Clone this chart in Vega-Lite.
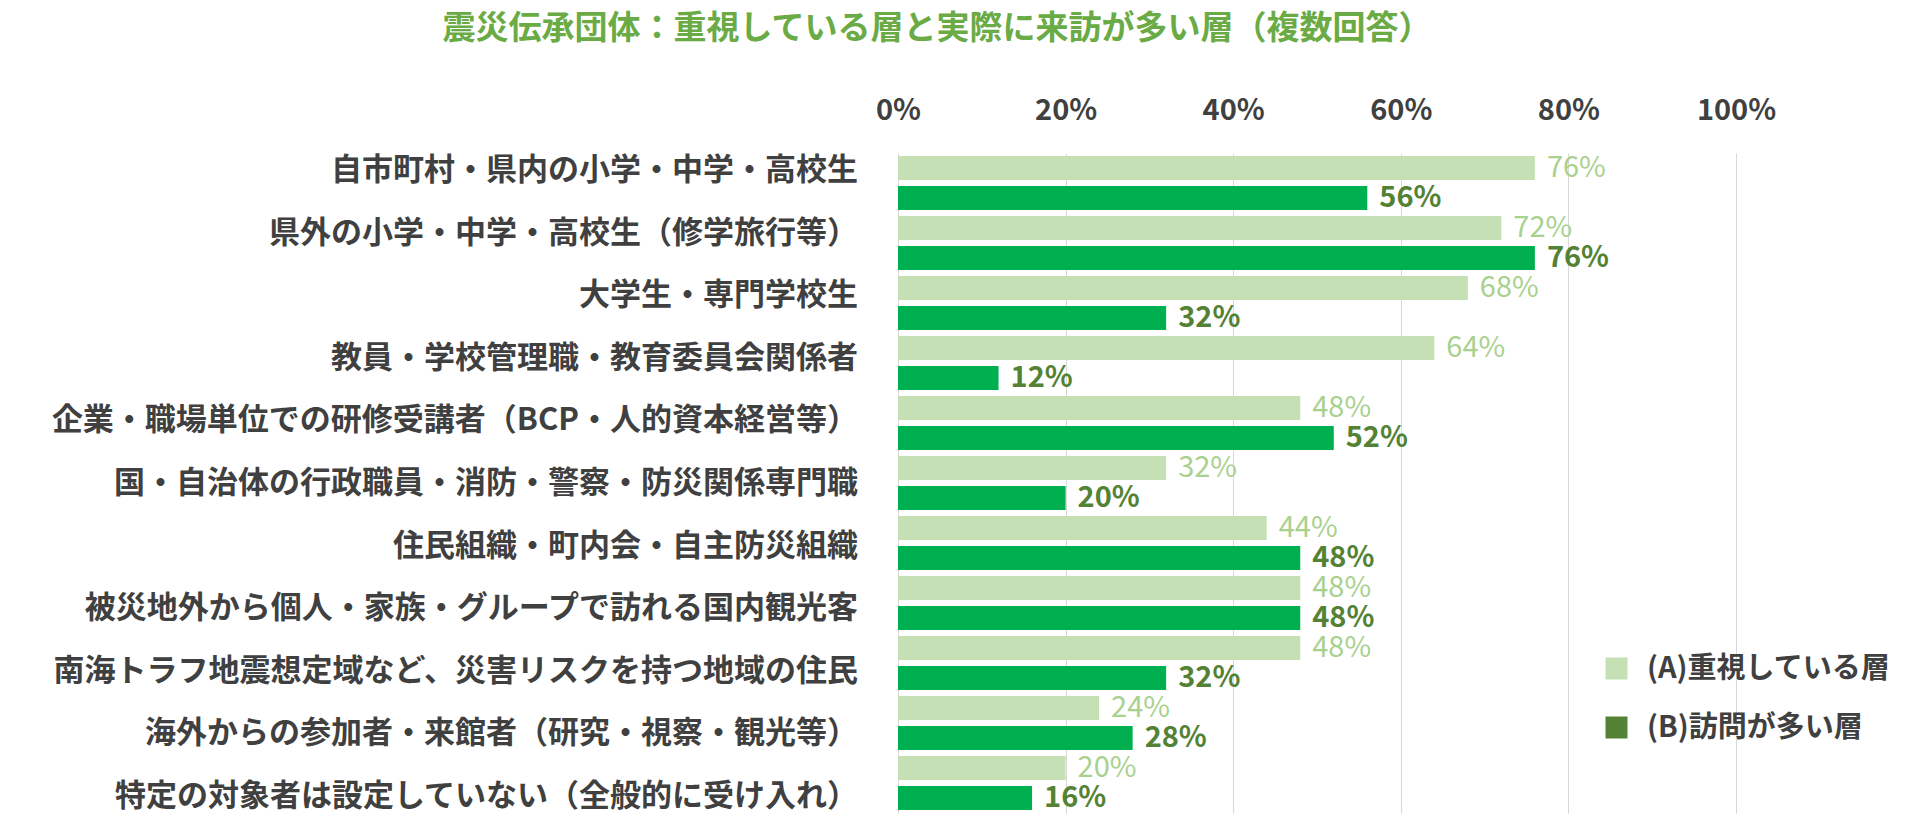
{
  "$schema": "https://vega.github.io/schema/vega-lite/v6.json",
  "width": 838,
  "height": 660,
  "autosize": {"type": "none"},
  "padding": {"left": 898, "top": 153, "right": 184, "bottom": 22},
  "background": "white",
  "config": {
    "font": "Noto Sans CJK JP",
    "view": {"stroke": null}
  },
  "title": {
    "text": "震災伝承団体：重視している層と実際に来訪が多い層（複数回答）",
    "fontSize": 33,
    "fontWeight": "bold",
    "color": "#6aab45",
    "anchor": "middle",
    "frame": "group",
    "dx": -380,
    "offset": 50
  },
  "data": {
    "values": [
      {"cat": "自市町村・県内の小学・中学・高校生", "series": "A", "value": 0.76},
      {"cat": "自市町村・県内の小学・中学・高校生", "series": "B", "value": 0.56},
      {"cat": "県外の小学・中学・高校生（修学旅行等）", "series": "A", "value": 0.72},
      {"cat": "県外の小学・中学・高校生（修学旅行等）", "series": "B", "value": 0.76},
      {"cat": "大学生・専門学校生", "series": "A", "value": 0.68},
      {"cat": "大学生・専門学校生", "series": "B", "value": 0.32},
      {"cat": "教員・学校管理職・教育委員会関係者", "series": "A", "value": 0.64},
      {"cat": "教員・学校管理職・教育委員会関係者", "series": "B", "value": 0.12},
      {"cat": "企業・職場単位での研修受講者（BCP・人的資本経営等）", "series": "A", "value": 0.48},
      {"cat": "企業・職場単位での研修受講者（BCP・人的資本経営等）", "series": "B", "value": 0.52},
      {"cat": "国・自治体の行政職員・消防・警察・防災関係専門職", "series": "A", "value": 0.32},
      {"cat": "国・自治体の行政職員・消防・警察・防災関係専門職", "series": "B", "value": 0.20},
      {"cat": "住民組織・町内会・自主防災組織", "series": "A", "value": 0.44},
      {"cat": "住民組織・町内会・自主防災組織", "series": "B", "value": 0.48},
      {"cat": "被災地外から個人・家族・グループで訪れる国内観光客", "series": "A", "value": 0.48},
      {"cat": "被災地外から個人・家族・グループで訪れる国内観光客", "series": "B", "value": 0.48},
      {"cat": "南海トラフ地震想定域など、災害リスクを持つ地域の住民", "series": "A", "value": 0.48},
      {"cat": "南海トラフ地震想定域など、災害リスクを持つ地域の住民", "series": "B", "value": 0.32},
      {"cat": "海外からの参加者・来館者（研究・視察・観光等）", "series": "A", "value": 0.24},
      {"cat": "海外からの参加者・来館者（研究・視察・観光等）", "series": "B", "value": 0.28},
      {"cat": "特定の対象者は設定していない（全般的に受け入れ）", "series": "A", "value": 0.20},
      {"cat": "特定の対象者は設定していない（全般的に受け入れ）", "series": "B", "value": 0.16}
    ]
  },
  "resolve": {"scale": {"y": "independent"}},
  "layer": [
    {
      "mark": {"type": "bar"},
      "encoding": {
        "y": {"field": "cat", "type": "nominal", "sort": null, "axis": null,
              "scale": {"paddingInner": 0, "paddingOuter": 0}},
        "yOffset": {"field": "series", "type": "nominal",
                    "scale": {"domain": ["A", "B"], "paddingInner": 0.2, "paddingOuter": 0.1}},
        "x": {"field": "value", "type": "quantitative",
              "scale": {"domain": [0, 1]},
              "axis": {"orient": "top", "format": ".0%", "values": [0, 0.2, 0.4, 0.6, 0.8, 1],
                       "labelFontSize": 29, "labelFontWeight": "bold", "labelColor": "#404040",
                       "labelFlush": false, "labelOverlap": false,
                       "tickSize": 0, "domain": false, "labelPadding": 28,
                       "grid": true, "gridColor": "#d9d9d9", "gridWidth": 1, "title": null}},
        "fill": {"field": "series", "type": "nominal", "legend": null,
                 "scale": {"domain": ["A", "B"], "range": ["#c5e0b4", "#00b050"]}}
      }
    },
    {
      "transform": [
        {"calculate": "datum.series === 'A' ? '(A)重視している層' : '(B)訪問が多い層'", "as": "leg"}
      ],
      "mark": {"type": "square", "filled": true},
      "encoding": {
        "x": {"datum": 0, "type": "quantitative"},
        "size": {"value": 0},
        "color": {"field": "leg", "type": "nominal",
                  "scale": {"domain": ["(A)重視している層", "(B)訪問が多い層"], "range": ["#c5e0b4", "#548235"]},
                  "legend": {"orient": "none", "legendX": 704, "legendY": 501,
                             "title": null,
                             "labelFontSize": 29, "labelFontWeight": "bold", "labelColor": "#404040",
                             "labelLimit": 400,
                             "symbolType": "square", "symbolSize": 484, "symbolStrokeWidth": 0,
                             "symbolOpacity": 1, "labelOffset": 16, "rowPadding": 29}}
      }
    },
    {
      "transform": [{"filter": "datum.series === 'A'"}],
      "mark": {"type": "text", "align": "left", "baseline": "middle", "dx": 12,
               "fontSize": 29, "fontWeight": "normal", "color": "#a9d18e"},
      "encoding": {
        "y": {"field": "cat", "type": "nominal", "sort": null, "axis": null,
              "scale": {"paddingInner": 0, "paddingOuter": 0}},
        "yOffset": {"field": "series", "type": "nominal",
                    "scale": {"domain": ["A", "B"], "paddingInner": 0.2, "paddingOuter": 0.1}},
        "x": {"field": "value", "type": "quantitative"},
        "text": {"field": "value", "type": "quantitative", "format": ".0%"}
      }
    },
    {
      "transform": [{"filter": "datum.series === 'B'"}],
      "mark": {"type": "text", "align": "left", "baseline": "middle", "dx": 12,
               "fontSize": 29, "fontWeight": "bold", "color": "#548235"},
      "encoding": {
        "y": {"field": "cat", "type": "nominal", "sort": null, "axis": null,
              "scale": {"paddingInner": 0, "paddingOuter": 0}},
        "yOffset": {"field": "series", "type": "nominal",
                    "scale": {"domain": ["A", "B"], "paddingInner": 0.2, "paddingOuter": 0.1}},
        "x": {"field": "value", "type": "quantitative"},
        "text": {"field": "value", "type": "quantitative", "format": ".0%"}
      }
    },
    {
      "transform": [{"filter": "datum.series === 'A'"}],
      "mark": {"type": "text", "align": "right", "baseline": "middle", "dx": -40,
               "fontSize": 31, "fontWeight": "bold", "color": "#404040"},
      "encoding": {
        "y": {"field": "cat", "type": "nominal", "sort": null, "axis": null,
              "scale": {"range": [-13, 675], "paddingInner": 0, "paddingOuter": 0}},
        "x": {"datum": 0, "type": "quantitative"},
        "text": {"field": "cat", "type": "nominal"}
      }
    }
  ]
}
